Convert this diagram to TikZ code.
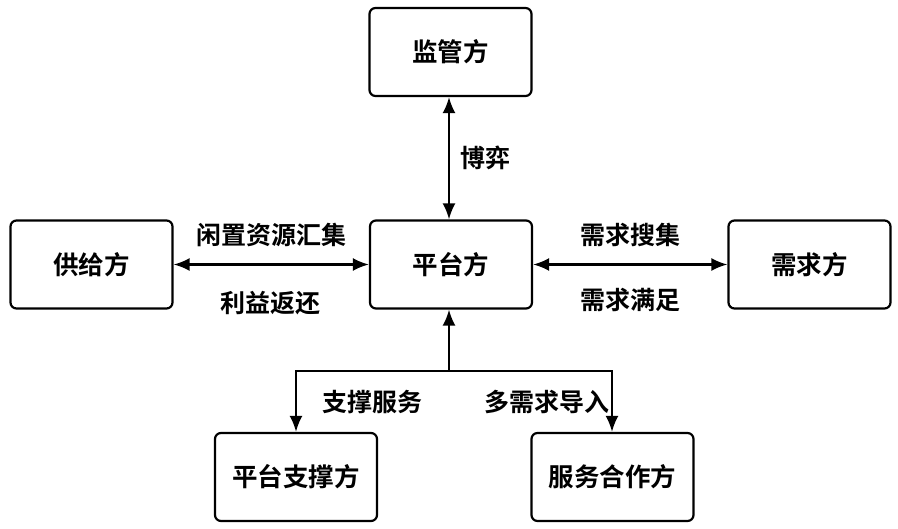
\documentclass[tikz,border=0pt]{standalone}
\usepackage{fontspec}
\setmainfont{Noto Sans CJK SC}[BoldFont={Noto Sans CJK SC Bold}]
\usetikzlibrary{arrows.meta}
\begin{document}
\begin{tikzpicture}[x=1pt,y=-1pt,
  party/.style={draw,line width=2.2pt,rounded corners=6pt,minimum width=162pt,minimum height=88pt,font=\fontsize{25.5}{25.5}\selectfont\bfseries,inner sep=0pt},
  lbl/.style={font=\fontsize{25}{25}\selectfont\bfseries,inner sep=0pt},
  conn/.style={line width=2.2pt,-{Latex[length=16pt,width=13pt]}},
  biconn/.style={line width=2.2pt,{Latex[length=16pt,width=13pt]}-{Latex[length=16pt,width=13pt]}}]
\useasboundingbox (0,0) rectangle (898,529);
\node[party] (reg) at (450.5,52) {监管方};
\node[party] (plat) at (451,264.5) {平台方};
\node[party] (sup) at (91.5,264.5) {供给方};
\node[party] (dem) at (809.5,264.5) {需求方};
\node[party] (psup) at (296,477) {平台支撑方};
\node[party] (coop) at (612.5,477) {服务合作方};
\coordinate (j) at (449,371);
\coordinate (jl) at (296,371);
\coordinate (jr) at (612,371);
\draw[biconn] (reg.south -| j) -- (plat.north -| j) node[midway,right=10pt,lbl] {博弈};
\draw[biconn] (sup.east) -- (plat.west);
\draw[biconn] (plat.east) -- (dem.west);
\draw[conn] (j) -- (plat.south -| j);
\draw[conn] (j) -- (jl) -- (psup.north);
\draw[conn] (j) -- (jr) -- (coop.north -| jr);
\node[lbl] (l1) at (271,235) {闲置资源汇集};
\node[lbl] (l2) at (270,303) {利益返还};
\node[lbl] (l3) at (630,235) {需求搜集};
\node[lbl] (l4) at (630,300) {需求满足};
\node[lbl] (l5) at (372,402) {支撑服务};
\node[lbl] (l6) at (547,402) {多需求导入};
\end{tikzpicture}
\end{document}
